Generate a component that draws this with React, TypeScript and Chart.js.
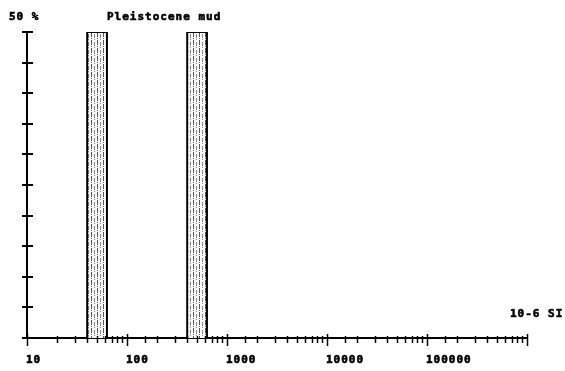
import React, { useEffect, useRef } from "react";
import { Chart, registerables } from "chart.js";

Chart.register(...registerables);

// Data
const binLow: number[] = [40, 400];
const binHigh: number[] = [63, 630];
const percent: number[] = [50, 50];
const xLabelValues: number[] = [10, 100, 1000, 10000, 100000];
const yTickStep = 5;
const yMax = 50;
const xMin = 10;
const xMax = 1000000;
const yUnitLabel = "50 %";
const titleText = "Pleistocene mud";
const xUnitLabel = "10-6 SI";

const FONT = 'bold 11px "DejaVu Sans Mono"';

function makePattern(): CanvasPattern | string {
  const c = document.createElement("canvas");
  c.width = 6;
  c.height = 8;
  const g = c.getContext("2d");
  if (!g) return "#ccc";
  g.fillStyle = "#ffffff";
  g.fillRect(0, 0, 6, 8);
  g.fillStyle = "#555555";
  g.fillRect(1, 0, 1, 5);
  g.fillRect(1, 6, 1, 1);
  g.fillStyle = "#888888";
  g.fillRect(4, 2, 1, 4);
  g.fillRect(4, 7, 1, 1);
  const p = g.createPattern(c, "repeat");
  return p || "#ccc";
}

const axisDecor = {
  id: "axisDecor",
  afterDraw(chart: any) {
    const ctx = chart.ctx as CanvasRenderingContext2D;
    const xs = chart.scales.x;
    const ys = chart.scales.y;
    const area = chart.chartArea;
    ctx.save();
    ctx.strokeStyle = "#000";
    // x ticks
    ctx.lineWidth = 1.5;
    xs.ticks.forEach((t: any) => {
      const v = t.value;
      const px = Math.round(xs.getPixelForValue(v)) + 0.5;
      const lg = Math.log10(v);
      const major = Math.abs(lg - Math.round(lg)) < 1e-9;
      ctx.beginPath();
      ctx.moveTo(px, area.bottom - (major ? 4 : 2));
      ctx.lineTo(px, area.bottom + (major ? 8 : 5));
      ctx.stroke();
    });
    // y ticks
    ctx.lineWidth = 2;
    ys.ticks.forEach((t: any) => {
      const py = Math.round(ys.getPixelForValue(t.value));
      ctx.beginPath();
      ctx.moveTo(area.left - 5, py);
      ctx.lineTo(area.left + 6, py);
      ctx.stroke();
    });
    // texts
    ctx.fillStyle = "#000";
    ctx.strokeStyle = "#000";
    ctx.lineWidth = 0.6;
    ctx.font = FONT;
    (ctx as any).letterSpacing = "1px";
    ctx.textBaseline = "alphabetic";
    ctx.textAlign = "left";
    const put = (s: string, x: number, y: number) => {
      ctx.fillText(s, x, y);
      ctx.strokeText(s, x, y);
    };
    xLabelValues.forEach((v) => {
      const px = xs.getPixelForValue(v);
      put(String(v), px - 1, area.bottom + 25);
    });
    put(yUnitLabel, 9, 20);
    put(titleText, 107, 20);
    put(xUnitLabel, 510, area.bottom - 21);
    ctx.restore();
  },
};

export default function App() {
  const ref = useRef<HTMLCanvasElement | null>(null);
  useEffect(() => {
    if (!ref.current) return;
    const pattern = makePattern();
    const datasets = binLow.map((lo, i) => ({
      data: [
        { x: lo, y: 0 },
        { x: lo, y: percent[i] },
        { x: binHigh[i], y: percent[i] },
        { x: binHigh[i], y: 0 },
      ],
      borderColor: "#000",
      borderWidth: 2,
      backgroundColor: pattern,
      fill: "origin",
      pointRadius: 0,
      tension: 0,
    }));
    const chart = new Chart(ref.current, {
      type: "line",
      data: { datasets } as any,
      plugins: [axisDecor],
      options: {
        animation: false,
        responsive: false,
        devicePixelRatio: 1,
        layout: { padding: { top: 32, right: 38, left: 0, bottom: 0 } },
        plugins: { legend: { display: false }, tooltip: { enabled: false } },
        scales: {
          x: {
            type: "logarithmic",
            min: xMin,
            max: xMax,
            grid: { display: false },
            border: { display: true, color: "#000", width: 2 },
            ticks: { display: false, autoSkip: false },
            afterFit: (s: any) => {
              s.height = 33;
            },
          },
          y: {
            type: "linear",
            min: 0,
            max: yMax,
            grid: { display: false },
            border: { display: true, color: "#000", width: 2 },
            ticks: { display: false, stepSize: yTickStep },
            afterFit: (s: any) => {
              s.width = 27;
            },
          },
        },
      } as any,
    });
    return () => chart.destroy();
  }, []);
  return (
    <div style={{ position: "fixed", left: 0, top: 0, width: 565, height: 371, background: "#fff" }}>
      <canvas ref={ref} width={565} height={371} />
    </div>
  );
}
